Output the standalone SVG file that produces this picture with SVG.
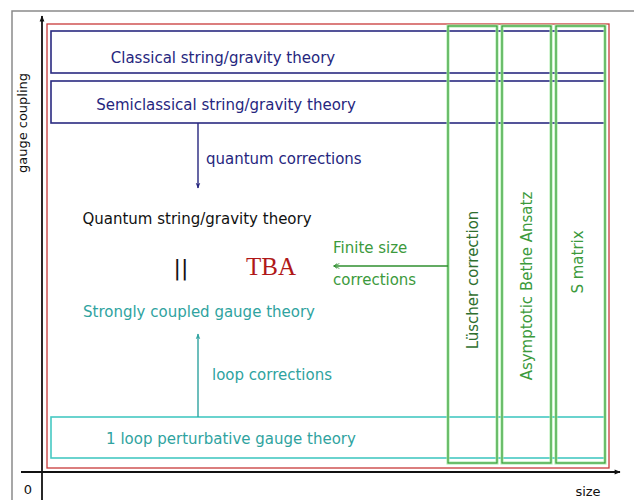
<svg xmlns="http://www.w3.org/2000/svg" width="634" height="500" viewBox="0 0 634 500">
<defs>
<style>
text{font-family:"DejaVu Sans","Liberation Sans",sans-serif;font-size:15px}
.navy{fill:#26267e}
.teal{fill:#2fa3a0}
.green{fill:#3c9a3c}
.blk{fill:#111}
.brect{fill:none;stroke:#2a2a80;stroke-width:1.6}
.gouter{fill:none;stroke:#a8eca8;stroke-width:3}
.ginner{fill:none;stroke:#2f8f2f;stroke-width:1}
</style>
<marker id="ahNavy" viewBox="0 0 10 10" refX="9" refY="5" markerWidth="6" markerHeight="7" orient="auto" markerUnits="userSpaceOnUse"><path d="M0,1 L10,5 L0,9 L3,5 Z" fill="#26267e"/></marker>
<marker id="ahTeal" viewBox="0 0 10 10" refX="9" refY="5" markerWidth="6" markerHeight="7" orient="auto" markerUnits="userSpaceOnUse"><path d="M0,1 L10,5 L0,9 L3,5 Z" fill="#2fa3a0"/></marker>
<marker id="ahGreen" viewBox="0 0 10 10" refX="9" refY="5" markerWidth="7" markerHeight="6" orient="auto" markerUnits="userSpaceOnUse"><path d="M0,1 L10,5 L0,9 M4,1 L9,5 L4,9" fill="none" stroke="#2f8f2f" stroke-width="1.3"/></marker>
<marker id="ahBlk" viewBox="0 0 10 10" refX="9" refY="5" markerWidth="8" markerHeight="6" orient="auto" markerUnits="userSpaceOnUse"><path d="M0,1 L10,5 L0,9 Z" fill="#111"/></marker>
</defs>
<rect width="634" height="500" fill="#fff"/>
<g id="frame">
<path d="M12,500 V11 H634" fill="none" stroke="#8a8a8a" stroke-width="1.5"/>
</g>
<g id="axes">
<line x1="42" y1="500" x2="42" y2="16" stroke="#111" stroke-width="1.8" marker-end="url(#ahBlk)"/>
<line x1="21" y1="472" x2="620" y2="472" stroke="#111" stroke-width="1.8" marker-end="url(#ahBlk)"/>
<text x="27" y="123" text-anchor="middle" transform="rotate(-90 27 123)" class="blk" style="font-size:13px">gauge coupling</text>
<text x="28" y="494" text-anchor="middle" class="blk" style="font-size:13px">0</text>
<text x="588" y="496" text-anchor="middle" class="blk" style="font-size:13px">size</text>
</g>
<g id="region">
<rect x="47" y="24" width="562" height="444" fill="none" stroke="#c83a3a" stroke-width="1.3"/>
</g>
<g id="classical">
<rect x="51" y="31" width="554" height="42" class="brect"/>
<text x="223" y="63" text-anchor="middle" class="navy">Classical string/gravity theory</text>
</g>
<g id="semiclassical">
<rect x="51" y="81" width="554" height="42" class="brect"/>
<text x="226" y="110" text-anchor="middle" class="navy">Semiclassical string/gravity theory</text>
</g>
<g id="one-loop">
<rect x="51" y="417" width="554" height="41" fill="none" stroke="#45c9c2" stroke-width="1.6"/>
<text x="231" y="444" text-anchor="middle" class="teal">1  loop perturbative gauge theory</text>
</g>
<g id="luscher">
<rect x="448" y="26" width="49" height="437" class="gouter"/>
<rect x="448" y="26" width="49" height="437" class="ginner"/>
<text x="478" y="280" text-anchor="middle" transform="rotate(-90 478 280)" style="fill:#2f6f2f">Lüscher correction</text>
</g>
<g id="bethe">
<rect x="502" y="26" width="49" height="437" class="gouter"/>
<rect x="502" y="26" width="49" height="437" class="ginner"/>
<text x="532" y="286" text-anchor="middle" transform="rotate(-90 532 286)" class="green">Asymptotic Bethe  Ansatz</text>
</g>
<g id="smatrix">
<rect x="556" y="26" width="49" height="437" class="gouter"/>
<rect x="556" y="26" width="49" height="437" class="ginner"/>
<text x="583" y="262" text-anchor="middle" transform="rotate(-90 583 262)" class="green">S  matrix</text>
</g>
<g id="quantum">
<text x="197" y="224" text-anchor="middle" class="blk">Quantum string/gravity theory</text>
</g>
<g id="equals">
<text x="181" y="275" text-anchor="middle" class="blk" style="font-size:22px">||</text>
</g>
<g id="tba">
<text x="271" y="275" text-anchor="middle" style="font-family:'Liberation Serif',serif;font-size:25px;fill:#b01818">TBA</text>
</g>
<g id="strong">
<text x="199" y="317" text-anchor="middle" class="teal">Strongly coupled gauge theory</text>
</g>
<g id="connectors">
<line x1="198" y1="123" x2="198" y2="188" stroke="#26267e" stroke-width="1.4" marker-end="url(#ahNavy)"/>
<line x1="198" y1="417" x2="198" y2="334" stroke="#2fa3a0" stroke-width="1.4" marker-end="url(#ahTeal)"/>
<line x1="448" y1="266" x2="334" y2="266" stroke="#2f8f2f" stroke-width="1.4" marker-end="url(#ahGreen)"/>
<text x="206" y="164" class="navy">quantum corrections</text>
<text x="212" y="380" class="teal">loop corrections</text>
<text x="333" y="253" class="green">Finite size</text>
<text x="333" y="285" class="green">corrections</text>
</g>
</svg>
